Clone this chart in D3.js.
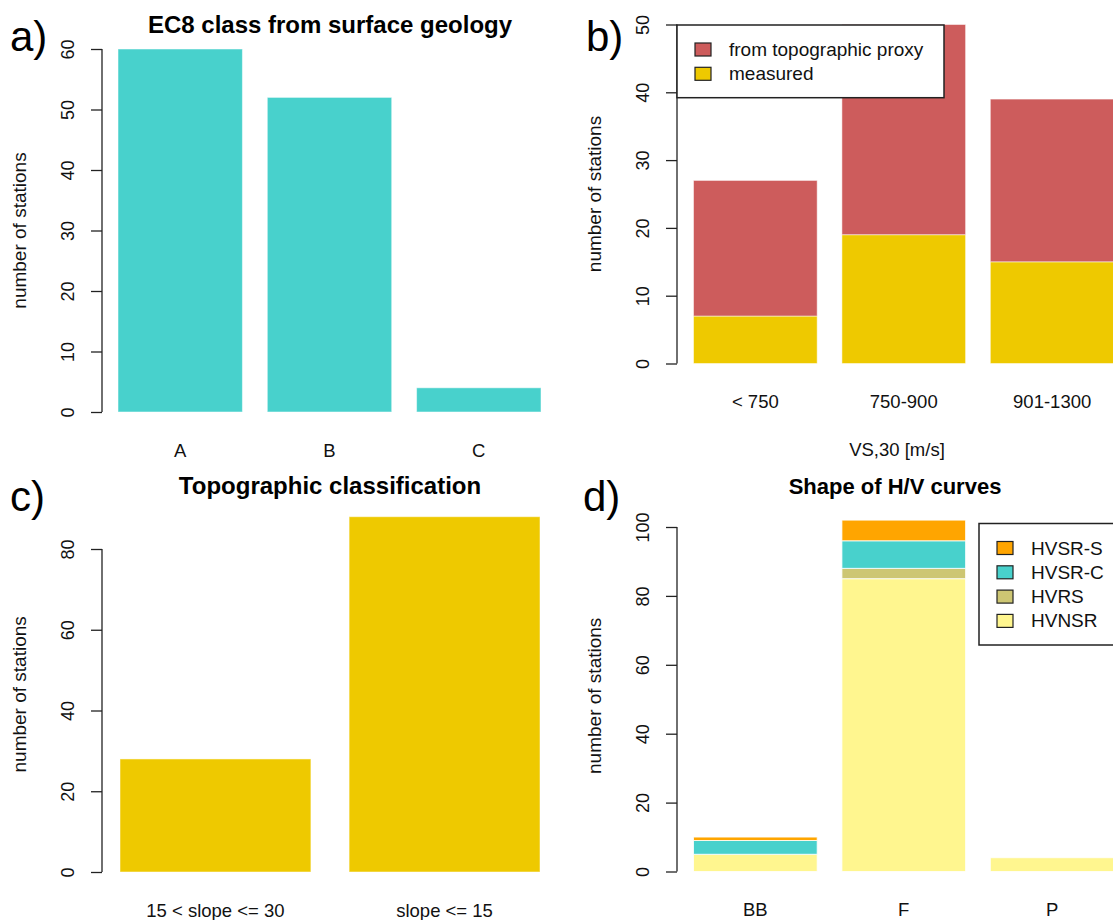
<!DOCTYPE html>
<html>
<head>
<meta charset="utf-8">
<script src="https://cdn.jsdelivr.net/npm/d3@7"></script>
<style>
  body { margin: 0; background: #fff; }
  svg { display: block; font-family: "Liberation Sans", Arial, sans-serif; }
</style>
</head>
<body>
<svg id="chart" width="1113" height="920"></svg>
<script>
// a) EC8 class from surface geology
var geoClasses = ["A", "B", "C"];
var geoCounts = [60, 52, 4];

// b) Vs30 classes, measured vs from topographic proxy
var vsBins = ["< 750", "750-900", "901-1300"];
var vsMeasured = [7, 19, 15];
var vsProxy = [20, 31, 24];

// c) topographic classification
var slopeClasses = ["15 < slope <= 30", "slope <= 15"];
var slopeCounts = [28, 88];

// d) shape of H/V curves
var hvShapes = ["BB", "F", "P"];
var hvSeries = ["HVNSR", "HVRS", "HVSR-C", "HVSR-S"];
var hvnsr = [5, 85, 4];
var hvrs = [0, 3, 0];
var hvsrC = [4, 8, 0];
var hvsrS = [1, 6, 0];

var svg = d3.select("#chart");
var pad = 0.2 / 1.2;

// y axis like R's: line only over the ticks, labels parallel to the axis
function yAxis(g, y, ticks, x0, ymax) {
	var ax = g.append("g")
		.attr("transform", "translate(" + x0 + ",0)")
		.call(d3.axisLeft(y).tickValues(ticks).tickSize(11).tickSizeOuter(0));
	ax.select(".domain").attr("d", "M0," + y(ticks[0]) + "V" + y(ticks[ticks.length - 1]))
		.attr("stroke", "#222").attr("stroke-width", 1.3);
	ax.selectAll(".tick line").attr("stroke", "#222").attr("stroke-width", 1.3);
	ax.selectAll(".tick text")
		.attr("x", null).attr("dy", null)
		.attr("transform", "translate(-28,0) rotate(-90)")
		.attr("text-anchor", "middle")
		.attr("fill", "#111")
		.style("font-size", "18px");
	// the title sits in the middle of the plot region
	var mid = (y(0) + y(ymax)) / 2;
	g.append("text")
		.attr("transform", "translate(" + (x0 - 76) + "," + mid + ") rotate(-90)")
		.attr("text-anchor", "middle")
		.style("font-size", "19px")
		.attr("fill", "#111")
		.text("number of stations");
}

function xLabels(g, x, y0) {
	g.selectAll(".xl").data(x.domain()).enter().append("text")
		.attr("x", function(d) { return x(d) + x.bandwidth() / 2; })
		.attr("y", y0 + 44.5)
		.attr("text-anchor", "middle")
		.style("font-size", "18.5px")
		.attr("fill", "#111")
		.text(function(d) { return d; });
}

function title(g, txt, cx, y, size) {
	g.append("text").attr("x", cx).attr("y", y)
		.attr("text-anchor", "middle")
		.style("font-size", size + "px").style("font-weight", "bold")
		.text(txt);
}

function letter(txt, x, y) {
	svg.append("text").attr("x", x).attr("y", y)
		.style("font-size", "42px").text(txt);
}

function legend(g, box, items) {
	g.append("rect")
		.attr("x", box[0]).attr("y", box[1]).attr("width", box[2]).attr("height", box[3])
		.attr("fill", "#fff").attr("stroke", "#222").attr("stroke-width", 1.5);
	items.forEach(function(it, i) {
		var cy = box[1] + 24.5 + i * 24.3;
		g.append("rect").attr("x", box[0] + 18).attr("y", cy - 6.5)
			.attr("width", 16).attr("height", 13)
			.attr("fill", it.color).attr("stroke", "#222").attr("stroke-width", 1.2);
		g.append("text").attr("x", box[0] + 52).attr("y", cy + 6.5)
			.style("font-size", "19px").attr("fill", "#111").text(it.label);
	});
}

// ---- panel a
var ga = svg.append("g");
var xa = d3.scaleBand().domain(geoClasses).range([118, 541]).paddingInner(pad);
var ya = d3.scaleLinear().domain([0, 60]).range([412, 49]);
ga.selectAll(".bar").data(geoCounts).enter().append("rect")
	.attr("x", function(d, i) { return xa(geoClasses[i]); })
	.attr("y", function(d) { return ya(d); })
	.attr("width", xa.bandwidth())
	.attr("height", function(d) { return ya(0) - ya(d); })
	.attr("fill", "#48D1CC").attr("stroke", "#fff").attr("stroke-opacity", 0.5);
yAxis(ga, ya, d3.range(0, 61, 10), 102, d3.max(geoCounts));
xLabels(ga, xa, 412);
title(ga, "EC8 class from surface geology", 330, 33, 24);
letter("a)", 10, 51);

// ---- panel b
var gb = svg.append("g");
var xb = d3.scaleBand().domain(vsBins).range([693.5, 1114]).paddingInner(pad);
var yb = d3.scaleLinear().domain([0, 50]).range([363.5, 24.5]);
var vsStack = d3.stack().keys(["measured", "proxy"])(vsBins.map(function(b, i) {
	return { bin: b, measured: vsMeasured[i], proxy: vsProxy[i] };
}));
var vsColor = { measured: "#EEC900", proxy: "#CD5C5C" };
gb.selectAll(".layer").data(vsStack).enter().append("g")
	.attr("fill", function(s) { return vsColor[s.key]; })
	.selectAll("rect").data(function(s) { return s; }).enter().append("rect")
	.attr("x", function(d) { return xb(d.data.bin); })
	.attr("y", function(d) { return yb(d[1]); })
	.attr("width", xb.bandwidth())
	.attr("height", function(d) { return yb(d[0]) - yb(d[1]); })
	.attr("stroke", "#fff").attr("stroke-opacity", 0.5);
yAxis(gb, yb, d3.range(0, 51, 10), 677, 50);
xLabels(gb, xb, 363.5);
gb.append("text").attr("x", 897).attr("y", 456)
	.attr("text-anchor", "middle").style("font-size", "18.5px").attr("fill", "#111")
	.text("VS,30 [m/s]");
legend(gb, [677, 25, 267, 72.7], [
	{ label: "from topographic proxy", color: vsColor.proxy },
	{ label: "measured", color: vsColor.measured }
]);
letter("b)", 586, 51);

// ---- panel c
var gc = svg.append("g");
var xc = d3.scaleBand().domain(slopeClasses).range([120, 540]).paddingInner(pad);
var yc = d3.scaleLinear().domain([0, 80]).range([872, 549]);
gc.selectAll(".bar").data(slopeCounts).enter().append("rect")
	.attr("x", function(d, i) { return xc(slopeClasses[i]); })
	.attr("y", function(d) { return yc(d); })
	.attr("width", xc.bandwidth())
	.attr("height", function(d) { return yc(0) - yc(d); })
	.attr("fill", "#EEC900").attr("stroke", "#fff").attr("stroke-opacity", 0.5);
yAxis(gc, yc, d3.range(0, 81, 20), 102, d3.max(slopeCounts));
xLabels(gc, xc, 872);
title(gc, "Topographic classification", 330, 494, 24);
letter("c)", 10, 511);

// ---- panel d
var gd = svg.append("g");
var xd = d3.scaleBand().domain(hvShapes).range([693.5, 1114]).paddingInner(pad);
var yd = d3.scaleLinear().domain([0, 100]).range([871.5, 527]);
var hvValues = { "HVNSR": hvnsr, "HVRS": hvrs, "HVSR-C": hvsrC, "HVSR-S": hvsrS };
var hvColor = { "HVNSR": "#FFF68F", "HVRS": "#CDC673", "HVSR-C": "#48D1CC", "HVSR-S": "#FFA500" };
var hvStack = d3.stack().keys(hvSeries)(hvShapes.map(function(s, i) {
	var row = { shape: s };
	hvSeries.forEach(function(k) { row[k] = hvValues[k][i]; });
	return row;
}));
gd.selectAll(".layer").data(hvStack).enter().append("g")
	.attr("fill", function(s) { return hvColor[s.key]; })
	.selectAll("rect").data(function(s) { return s.filter(function(d) { return d[1] > d[0]; }); })
	.enter().append("rect")
	.attr("x", function(d) { return xd(d.data.shape); })
	.attr("y", function(d) { return yd(d[1]); })
	.attr("width", xd.bandwidth())
	.attr("height", function(d) { return yd(d[0]) - yd(d[1]); })
	.attr("stroke", "#fff").attr("stroke-opacity", 0.8);
var hvMax = d3.max(hvStack[hvStack.length - 1], function(d) { return d[1]; });
yAxis(gd, yd, d3.range(0, 101, 20), 677, hvMax);
xLabels(gd, xd, 871.5);
title(gd, "Shape of H/V curves", 895, 494, 22);
legend(gd, [979, 523.5, 160, 121.5], hvSeries.slice().reverse().map(function(k) {
	return { label: k, color: hvColor[k] };
}));
letter("d)", 583, 511);
</script>
</body>
</html>
